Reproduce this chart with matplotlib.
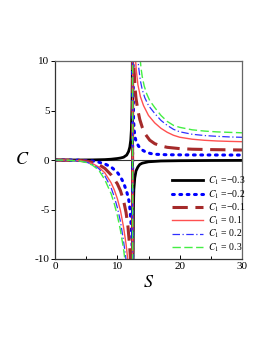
import matplotlib
matplotlib.use("Agg")
import matplotlib.pyplot as plt
from matplotlib.ticker import MultipleLocator

plt.rcParams['font.family'] = ['Liberation Serif', 'DejaVu Serif']
plt.rcParams['mathtext.fontset'] = 'stix'
plt.rcParams['axes.unicode_minus'] = False

labels = ["\u22120.3", "\u22120.2", "\u22120.1", " 0.1", " 0.2", " 0.3"]

# C1 = -0.3 (black)
s_m03 = [0, 4, 6, 8, 9, 10, 10.5, 11, 11.5, 11.8, 12.0, 12.15, 12.25, 12.35, 12.4, 12.44,
         12.46, 12.52, 12.58, 12.65, 12.8, 13.0, 13.3, 13.6, 14, 15, 17, 20, 25, 30]
c_m03 = [0, 0, 0.01, 0.04, 0.08, 0.15, 0.2, 0.28, 0.5, 0.85, 1.3, 2.0, 3.0, 5.5, 8.5, 200,
         -200, -10.5, -5, -3, -1.8, -1.1, -0.7, -0.45, -0.32, -0.18, -0.1, -0.07, -0.05, -0.04]

# C1 = -0.2 (blue dotted)
s_m02 = [0, 2, 4, 6, 7, 8, 9, 10, 10.5, 11, 11.5, 11.8, 12.0, 12.15, 12.3, 12.4, 12.44,
         12.46, 12.5, 12.55, 12.6, 12.7, 12.85, 13.0, 13.4, 13.9, 14.5, 15.3, 16, 18, 22, 30]
c_m02 = [0, 0, -0.02, -0.1, -0.22, -0.4, -0.7, -1.25, -1.7, -2.3, -3.2, -3.9, -4.8, -5.9, -7.5, -9.2, -200,
         200, 10.5, 6.0, 4.2, 3.0, 2.3, 1.9, 1.4, 1.05, 0.82, 0.66, 0.58, 0.53, 0.51, 0.5]

# C1 = -0.1 (brown dashed)
s_m01 = [0, 2, 4, 5, 6, 7, 8, 9, 10, 10.5, 11, 11.4, 11.7, 12, 12.2, 12.3, 12.44,
         12.46, 12.62, 12.7, 12.85, 13.0, 13.3, 13.6, 14, 14.5, 15.2, 16, 17, 18, 20, 22, 25, 30]
c_m01 = [0, -0.01, -0.05, -0.11, -0.23, -0.45, -0.85, -1.5, -2.4, -3.1, -4.1, -5.3, -6.7, -8.9, -10.8, -12.2, -200,
         200, 10.5, 9.0, 7.2, 6.2, 5.0, 4.1, 3.3, 2.6, 2.0, 1.65, 1.42, 1.28, 1.15, 1.09, 1.05, 1.01]

# C1 = 0.1 (red)
s_p01 = [0, 2, 4, 5, 6, 7, 8, 9, 9.5, 10, 10.5, 11, 11.4, 11.7, 11.9, 12.1, 12.44,
         12.46, 12.9, 13.05, 13.3, 13.7, 14.2, 15, 16, 17, 18, 19, 20, 22, 24, 26, 28, 30]
c_p01 = [0, -0.01, -0.07, -0.17, -0.36, -0.7, -1.3, -2.3, -3.0, -3.9, -5.1, -6.8, -8.5, -10.2, -11.8, -13.5, -200,
         200, 10.3, 9.0, 7.6, 6.4, 5.5, 4.5, 3.75, 3.2, 2.8, 2.5, 2.3, 2.1, 1.99, 1.92, 1.88, 1.85]

# C1 = 0.2 (blue dash-dot)
s_p02 = [0, 2, 4, 5, 6, 7, 8, 9, 9.5, 10, 10.5, 11, 11.3, 11.6, 11.8, 12.44,
         12.46, 13.3, 13.45, 13.7, 14.0, 14.4, 15, 16, 17, 18, 19, 20, 22, 24, 26, 28, 30]
c_p02 = [0, -0.02, -0.09, -0.21, -0.44, -0.85, -1.6, -2.8, -3.7, -4.8, -6.2, -8.2, -9.6, -11.2, -12.5, -200,
         200, 10.2, 9.2, 8.0, 7.1, 6.3, 5.5, 4.7, 4.0, 3.5, 3.1, 2.85, 2.6, 2.47, 2.39, 2.33, 2.29]

# C1 = 0.3 (green dashed)
s_p03 = [0, 2, 4, 5, 6, 7, 8, 9, 9.5, 10, 10.5, 11, 11.2, 11.4, 11.6, 12.44,
         12.46, 13.65, 13.8, 14.0, 14.3, 14.7, 15.2, 16, 17, 18, 19, 20, 22, 24, 26, 28, 30]
c_p03 = [0, -0.02, -0.11, -0.25, -0.52, -1.0, -2.0, -3.4, -4.4, -5.6, -7.1, -9.0, -10.0, -11.2, -12.5, -200,
         200, 10.3, 9.3, 8.4, 7.5, 6.7, 6.0, 5.3, 4.5, 3.9, 3.5, 3.3, 3.05, 2.92, 2.84, 2.79, 2.75]

series = [(s_m03, c_m03), (s_m02, c_m02), (s_m01, c_m01),
          (s_p01, c_p01), (s_p02, c_p02), (s_p03, c_p03)]

styles = [
    dict(color='black', lw=2.0, ls='-'),
    dict(color='#0000ff', lw=2.2, ls=(0, (0.6, 1.8)), dash_capstyle='round'),
    dict(color='#a52a2a', lw=2.2, ls=(0, (5, 2.5))),
    dict(color='#ff5050', lw=1.0, ls='-'),
    dict(color='#3030ff', lw=0.9, ls=(0, (6, 2, 1, 2))),
    dict(color='#44ee44', lw=1.0, ls=(0, (6, 2.5))),
]

fig = plt.figure(figsize=(2.66, 3.44), dpi=100)
ax = fig.add_axes([55/266, 1-259/344, 187/266, 198/344])

ax.axhline(0, color='#333333', lw=0.8, zorder=1)
for (s, c), st, lab in zip(series, styles, labels):
    ax.plot(s, c, label=r"$C_1$" + " =" + lab, zorder=2, **st)

ax.set_xlim(0, 30)
ax.set_ylim(-10, 10)
ax.xaxis.set_major_locator(MultipleLocator(10))
ax.xaxis.set_minor_locator(MultipleLocator(5))
ax.yaxis.set_major_locator(MultipleLocator(5))
ax.tick_params(axis='x', which='major', direction='in', length=3, width=0.7, labelsize=8, pad=2)
ax.tick_params(axis='x', which='minor', direction='in', length=2, width=0.7)
ax.tick_params(axis='y', which='major', direction='out', length=3, width=0.7, labelsize=8, pad=1)
for sp in ax.spines.values():
    sp.set_color('#666666')
    sp.set_linewidth(0.9)
ax.spines['left'].set_color('#333333')
ax.spines['bottom'].set_color('#333333')

ax.set_xlabel(r"$S$", fontsize=13, labelpad=2)
ax.set_ylabel(r"$C$", fontsize=13, rotation=0, labelpad=9, va='center')

leg = ax.legend(loc='upper left', bbox_to_anchor=(0.625, 0.425), frameon=False,
                fontsize=7.0, handlelength=3.2, handletextpad=0.5,
                labelspacing=0.08, borderaxespad=0.0, borderpad=0.0)

fig.savefig("out.png", dpi=100)
